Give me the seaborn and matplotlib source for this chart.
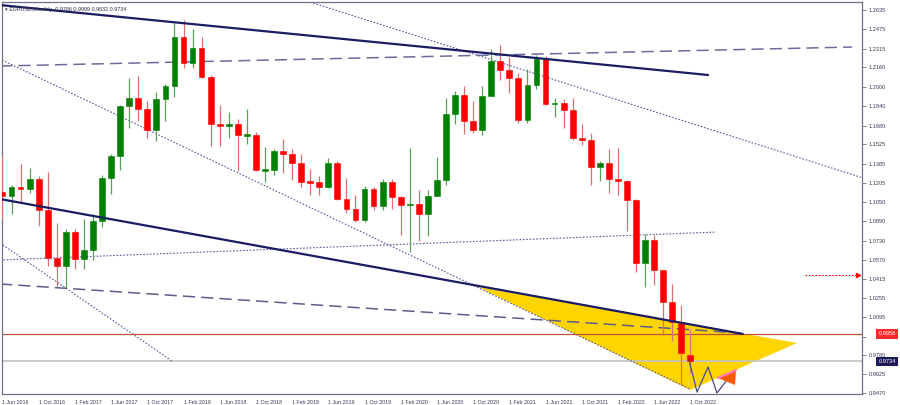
import numpy as np
import matplotlib
matplotlib.use("Agg")
import matplotlib.pyplot as plt
import matplotlib.transforms as mtransforms
import seaborn as sns

# monthly EURUSD candles, Jun 2016 .. Oct 2022
months = ["Jun 2016", "Jul 2016", "Aug 2016", "Sep 2016", "Oct 2016", "Nov 2016", "Dec 2016",
          "Jan 2017", "Feb 2017", "Mar 2017", "Apr 2017", "May 2017", "Jun 2017", "Jul 2017",
          "Aug 2017", "Sep 2017", "Oct 2017", "Nov 2017", "Dec 2017",
          "Jan 2018", "Feb 2018", "Mar 2018", "Apr 2018", "May 2018", "Jun 2018", "Jul 2018",
          "Aug 2018", "Sep 2018", "Oct 2018", "Nov 2018", "Dec 2018",
          "Jan 2019", "Feb 2019", "Mar 2019", "Apr 2019", "May 2019", "Jun 2019", "Jul 2019",
          "Aug 2019", "Sep 2019", "Oct 2019", "Nov 2019", "Dec 2019",
          "Jan 2020", "Feb 2020", "Mar 2020", "Apr 2020", "May 2020", "Jun 2020", "Jul 2020",
          "Aug 2020", "Sep 2020", "Oct 2020", "Nov 2020", "Dec 2020",
          "Jan 2021", "Feb 2021", "Mar 2021", "Apr 2021", "May 2021", "Jun 2021", "Jul 2021",
          "Aug 2021", "Sep 2021", "Oct 2021", "Nov 2021", "Dec 2021",
          "Jan 2022", "Feb 2022", "Mar 2022", "Apr 2022", "May 2022", "Jun 2022", "Jul 2022",
          "Aug 2022", "Sep 2022", "Oct 2022"]

opens = [1.1130, 1.1102, 1.1175, 1.1157, 1.1240, 1.0981, 1.0587,
         1.0517, 1.0797, 1.0574, 1.0652, 1.0895, 1.1243, 1.1426, 1.1842, 1.1906, 1.1813, 1.1645, 1.1903,
         1.2005, 1.2413, 1.2193, 1.2324, 1.2080, 1.1693, 1.1684, 1.1690, 1.1603, 1.1604, 1.1312, 1.1315,
         1.1467, 1.1448, 1.1372, 1.1217, 1.1215, 1.1169, 1.1372, 1.1076, 1.0988, 1.0898, 1.1152, 1.1017,
         1.1213, 1.1093, 1.1026, 1.1031, 1.0953, 1.1101, 1.1233, 1.1779, 1.1936, 1.1720, 1.1646, 1.1925,
         1.2215, 1.2136, 1.2074, 1.1729, 1.2019, 1.2227, 1.1858, 1.1870, 1.1808, 1.1579, 1.1558, 1.1338,
         1.1372, 1.1235, 1.1218, 1.1067, 1.0545, 1.0733, 1.0483, 1.0220, 1.0054, 0.9786]
highs = [1.1428, 1.1186, 1.1366, 1.1327, 1.1262, 1.1300, 1.0874,
         1.0829, 1.0829, 1.0906, 1.0951, 1.1268, 1.1445, 1.1846, 1.2070, 1.2092, 1.1880, 1.1961, 1.2023,
         1.2537, 1.2555, 1.2476, 1.2414, 1.2096, 1.1852, 1.1790, 1.1733, 1.1815, 1.1625, 1.1500, 1.1486,
         1.1570, 1.1489, 1.1448, 1.1324, 1.1265, 1.1412, 1.1390, 1.1250, 1.1109, 1.1179, 1.1175, 1.1239,
         1.1239, 1.1096, 1.1496, 1.1147, 1.1147, 1.1422, 1.1909, 1.1966, 1.2011, 1.1881, 1.2003, 1.2310,
         1.2349, 1.2243, 1.2113, 1.2150, 1.2266, 1.2254, 1.1909, 1.1900, 1.1909, 1.1692, 1.1616, 1.1386,
         1.1483, 1.1495, 1.1233, 1.1076, 1.0787, 1.0773, 1.0486, 1.0368, 1.0198, 0.9999]
lows = [1.0912, 1.0952, 1.1045, 1.1122, 1.0852, 1.0518, 1.0352,
        1.0340, 1.0494, 1.0494, 1.0569, 1.0839, 1.1118, 1.1312, 1.1662, 1.1717, 1.1574, 1.1554, 1.1717,
        1.1915, 1.2153, 1.2154, 1.2074, 1.1510, 1.1508, 1.1575, 1.1301, 1.1525, 1.1302, 1.1216, 1.1268,
        1.1289, 1.1234, 1.1176, 1.1110, 1.1107, 1.1160, 1.1065, 1.0960, 1.0879, 1.0879, 1.0981, 1.0981,
        1.0992, 1.0777, 1.0636, 1.0727, 1.0767, 1.1097, 1.1185, 1.1696, 1.1612, 1.1622, 1.1602, 1.1925,
        1.2053, 1.1952, 1.1704, 1.1704, 1.1986, 1.1847, 1.1751, 1.1663, 1.1562, 1.1523, 1.1186, 1.1222,
        1.1121, 1.1106, 1.0806, 1.0471, 1.0349, 1.0359, 0.9952, 0.9901, 0.9536, 0.9632]
closes = [1.1102, 1.1175, 1.1157, 1.1240, 1.0981, 1.0587, 1.0517,
          1.0797, 1.0574, 1.0652, 1.0895, 1.1243, 1.1426, 1.1842, 1.1906, 1.1813, 1.1645, 1.1903, 1.2005,
          1.2413, 1.2193, 1.2324, 1.2080, 1.1693, 1.1684, 1.1690, 1.1603, 1.1604, 1.1312, 1.1315, 1.1467,
          1.1448, 1.1372, 1.1217, 1.1215, 1.1169, 1.1372, 1.1076, 1.0988, 1.0898, 1.1152, 1.1017, 1.1213,
          1.1093, 1.1026, 1.1031, 1.0953, 1.1101, 1.1233, 1.1779, 1.1936, 1.1720, 1.1646, 1.1925, 1.2215,
          1.2136, 1.2074, 1.1729, 1.2019, 1.2227, 1.1858, 1.1870, 1.1808, 1.1579, 1.1558, 1.1338, 1.1372,
          1.1235, 1.1218, 1.1067, 1.0545, 1.0733, 1.0483, 1.0220, 1.0054, 0.9800, 0.9734]

# right scale; 0.9935 sits under the red price tag, so its text is left out
price_ticks = [1.2635, 1.2475, 1.2315, 1.2160, 1.2000, 1.1840, 1.1680, 1.1525, 1.1365, 1.1205,
               1.1050, 1.0890, 1.0730, 1.0570, 1.0415, 1.0255, 1.0095, 0.9935, 0.9780, 0.9625, 0.9470]
price_labels = [f"{p:.4f}" if p != 0.9935 else "" for p in price_ticks]

# drawn objects: x in bar index, y in price
upper_trend_x, upper_trend_y = [-0.28, 77.96], [1.2676, 1.2098]
lower_trend_x, lower_trend_y = [-0.28, 81.8], [1.1073, 0.9958]
upper_dash_x, upper_dash_y = [-0.28, 93.87], [1.2172, 1.2329]
lower_dash_x, lower_dash_y = [-0.28, 81.5], [1.0371, 0.9966]
flat_dot_x, flat_dot_y = [-0.28, 78.8], [1.0569, 1.0800]
diag_dot_x, diag_dot_y = [-0.06, 75.97], [1.2222, 0.9503]
top_dot_x, top_dot_y = [33.98, 95.5], [1.2701, 1.1237]
left_dot_x, left_dot_y = [-0.28, 18.73], [1.0710, 0.9734]
triangle_x, triangle_y = [52.54, 87.79, 75.97], [1.0346, 0.9883, 0.9495]
zigzag_x = [75.86, 76.74, 77.96, 78.95, 80.72]
zigzag_y = [0.9743, 0.9478, 0.9685, 0.9470, 0.9644]
small_tri_x, small_tri_y = [79.06, 81.05, 80.94], [0.9594, 0.9660, 0.9536]
arrow_x, arrow_y = [88.7, 94.5], [1.0445, 1.0445]
resist_level = 0.9958
bid_level = 0.9734

sns.set_theme(style="white")
plt.rcParams["font.family"] = ["Liberation Sans", "DejaVu Sans"]

fig = plt.figure(figsize=(9, 4.05), dpi=100)
ax = fig.add_axes([2 / 900, 11 / 405, 860 / 900, 392 / 405])

idx = np.arange(len(months))
o = np.array(opens); h = np.array(highs); l = np.array(lows); c = np.array(closes)
up = c >= o
body_col = np.where(up, "#008000", "#ff0000")
wick_col = np.where(up, "#5aa05a", "#e07070")

# yellow triangle under everything
ax.fill(triangle_x, triangle_y, color="#ffd500", zorder=0.5, lw=0)

# candles
ax.vlines(idx, l, h, colors=wick_col, lw=0.9, zorder=3)
flat = np.abs(c - o) < 0.0011
body_h = np.maximum(np.abs(c - o), 0.0011)
ax.bar(idx, body_h, bottom=np.minimum(o, c) - np.where(flat, 0.00055, 0),
       width=0.64, color=body_col, edgecolor=body_col, lw=0.4, zorder=4)

# trend lines
navy = "#1c1c64"
sns.lineplot(x=upper_trend_x, y=upper_trend_y, ax=ax, color=navy, lw=1.6, zorder=5)
sns.lineplot(x=lower_trend_x, y=lower_trend_y, ax=ax, color=navy, lw=1.6, zorder=5)
ax.plot(upper_dash_x, upper_dash_y, color="#6c6c9c", lw=1.1, dashes=(8, 4), zorder=2)
ax.plot(lower_dash_x, lower_dash_y, color="#5c5c8c", lw=1.1, dashes=(8, 4), zorder=2)
for xs, ys in [(flat_dot_x, flat_dot_y), (diag_dot_x, diag_dot_y),
               (top_dot_x, top_dot_y), (left_dot_x, left_dot_y)]:
    ax.plot(xs, ys, color="#5a5aa0", lw=0.8, dashes=(1.5, 1.5), zorder=2)

ax.axhline(resist_level, color="#c0503a", lw=0.9, zorder=2)
ax.axhline(bid_level, color="#c4c4c4", lw=1.2, zorder=1)

ax.plot(zigzag_x, zigzag_y, color="#4a4a8a", lw=0.9, zorder=5)
ax.fill(small_tri_x, small_tri_y, color="#ff5a00", zorder=5, lw=0)
ax.plot(small_tri_x[:2], small_tri_y[:2], color="#ff7ac0", lw=1.6, zorder=6)

ax.plot(arrow_x, arrow_y, color="#ff0000", lw=0.8, dashes=(1.5, 1.5), zorder=5)
ax.plot(arrow_x[-1:], arrow_y[-1:], marker=">", ms=3, color="#ff0000", zorder=5)

# axes
ax.set_xlim(-0.055, 94.97)
ax.set_ylim(0.94617, 1.27012)
for s in ["left", "bottom", "right", "top"]:
    ax.spines[s].set_color("#70708c")
    ax.spines[s].set_linewidth(0.9)

ax.yaxis.tick_right()
ax.set_yticks(price_ticks)
ax.set_yticklabels(price_labels)
ax.tick_params(axis="y", length=3, width=0.6, colors="#70708c", labelcolor="#3a3a55",
               labelsize=4.1, pad=2, direction="out")

xt = idx[::4]
ax.set_xticks(xt)
ax.set_xticklabels(["1 " + months[i] for i in xt], ha="left")
ax.tick_params(axis="x", length=3, width=0.6, colors="#70708c", labelcolor="#3a3a55",
               labelsize=3.8, pad=1.5, direction="out")
ax.set_xlabel("")
ax.set_ylabel("")

# price tags on the right scale, over the tick labels
tr = mtransforms.blended_transform_factory(ax.transAxes, ax.transData)
ax.text(1.019, resist_level, f"{resist_level:.4f}", transform=tr, fontsize=4.1, color="white",
        va="center", ha="left", zorder=10, clip_on=False,
        bbox=dict(boxstyle="square,pad=0.4", fc="#ff2a2a", ec="none"))
ax.text(1.019, bid_level, f"{bid_level:.4f}", transform=tr, fontsize=4.1, color="white",
        va="center", ha="left", zorder=10, clip_on=False,
        bbox=dict(boxstyle="square,pad=0.35", fc="#1a1a5a", ec="none"))

# header
ax.text(0.004, 0.986, "\u25be EURUSD,Monthly  0.9786 0.9999 0.9632 0.9734", transform=ax.transAxes,
        fontsize=3.9, color="#2a2a44", va="top", ha="left", zorder=10)

fig.savefig("out.png", dpi=100)
